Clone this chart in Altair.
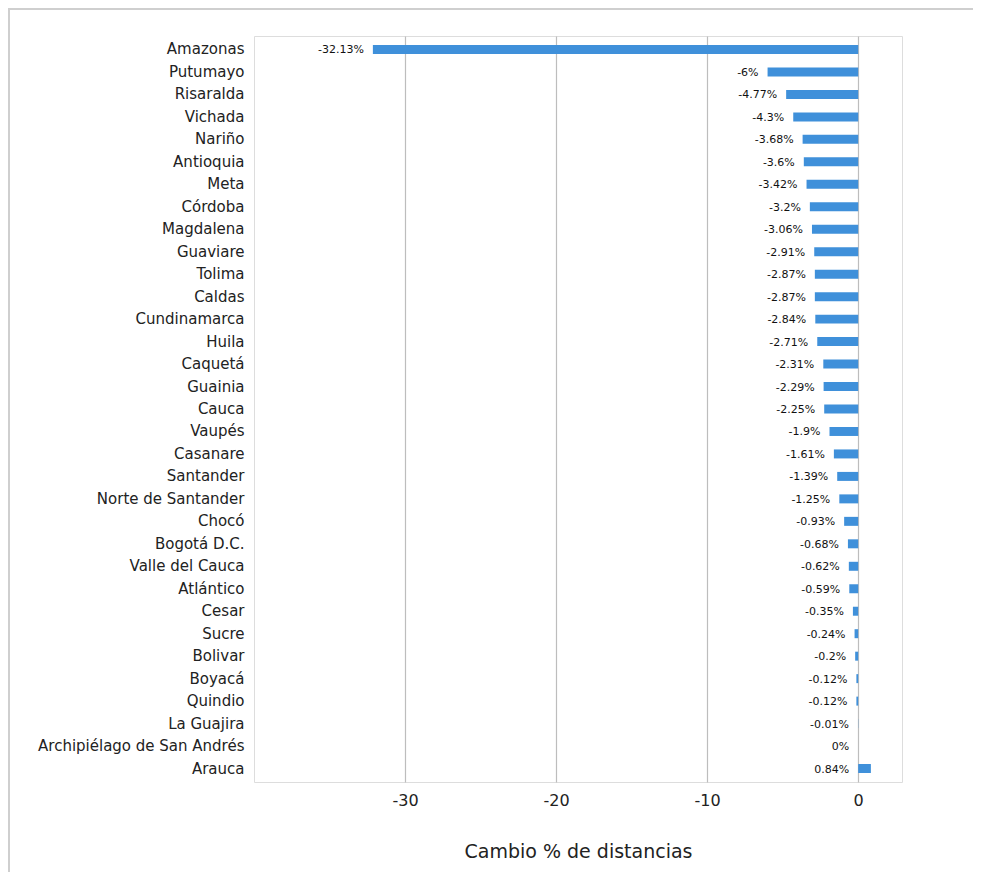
import altair as alt
import pandas as pd

departamentos = [
    "Amazonas", "Putumayo", "Risaralda", "Vichada", "Nariño", "Antioquia", "Meta",
    "Córdoba", "Magdalena", "Guaviare", "Tolima", "Caldas", "Cundinamarca", "Huila",
    "Caquetá", "Guainia", "Cauca", "Vaupés", "Casanare", "Santander",
    "Norte de Santander", "Chocó", "Bogotá D.C.", "Valle del Cauca", "Atlántico",
    "Cesar", "Sucre", "Bolivar", "Boyacá", "Quindio", "La Guajira",
    "Archipiélago de San Andrés", "Arauca",
]
cambio = [
    -32.13, -6, -4.77, -4.3, -3.68, -3.6, -3.42, -3.2, -3.06, -2.91, -2.87, -2.87,
    -2.84, -2.71, -2.31, -2.29, -2.25, -1.9, -1.61, -1.39, -1.25, -0.93, -0.68,
    -0.62, -0.59, -0.35, -0.24, -0.2, -0.12, -0.12, -0.01, 0, 0.84,
]
x_ticks = [-30, -20, -10, 0]

df = pd.DataFrame({"dep": departamentos, "v": cambio})
df["label"] = [f"{v:g}%" for v in cambio]
df["lx"] = [min(v, 0) for v in cambio]

FONT = "DejaVu Sans"
W, H = 648, 746

x_scale = alt.Scale(domain=[-40, 2.9], nice=False, zero=False)
y_scale = alt.Scale(paddingInner=0.6, paddingOuter=0.4)
y_enc = alt.Y("dep:N", sort=departamentos, scale=y_scale,
              axis=alt.Axis(title=None, ticks=False, domain=False, labelPadding=10,
                            labelFontSize=15, labelColor="#222222", labelFont=FONT,
                            labelLimit=400, grid=False))

bars = alt.Chart(df).mark_bar(color="#3f90da").encode(
    x=alt.X("v:Q", scale=x_scale,
            axis=alt.Axis(values=x_ticks, title="Cambio % de distancias", ticks=False,
                          domain=False, labelPadding=10, labelFontSize=16,
                          labelExpr="datum.value + ''",
                          labelColor="#222222", labelFont=FONT, titleFont=FONT,
                          titleFontSize=19, titleFontWeight="normal",
                          titleColor="#222222", titlePadding=34, grid=True,
                          gridColor="#bdbdbd", gridWidth=1.2)),
    x2=alt.datum(0),
    y=y_enc,
)

labels = alt.Chart(df).mark_text(align="right", baseline="middle", dx=-9, dy=1,
                                 fontSize=11, font=FONT, color="#111111").encode(
    x=alt.X("lx:Q", scale=x_scale),
    y=alt.Y("dep:N", sort=departamentos, scale=y_scale),
    text="label:N",
)

frame_df = pd.DataFrame({"k": ["a"]})
top_line = alt.Chart(frame_df).mark_rule(color="#cfcfcf", strokeWidth=2, clip=False).encode(
    x=alt.value(-246), x2=alt.value(W + 71), y=alt.value(-27))
left_line = alt.Chart(frame_df).mark_rule(color="#cfcfcf", strokeWidth=2, clip=False).encode(
    x=alt.value(-245), y=alt.value(-27), y2=alt.value(H + 90))

chart = alt.layer(bars, labels, top_line, left_line).properties(
    width=W, height=H,
    autosize=alt.AutoSizeParams(type="none"),
    padding={"left": 246, "top": 28, "right": 71, "bottom": 90},
).configure_view(stroke="#bdbdbd", strokeWidth=1.5).configure(background="white")

chart.save("out.html", embed_options={"renderer": "svg", "actions": False})
